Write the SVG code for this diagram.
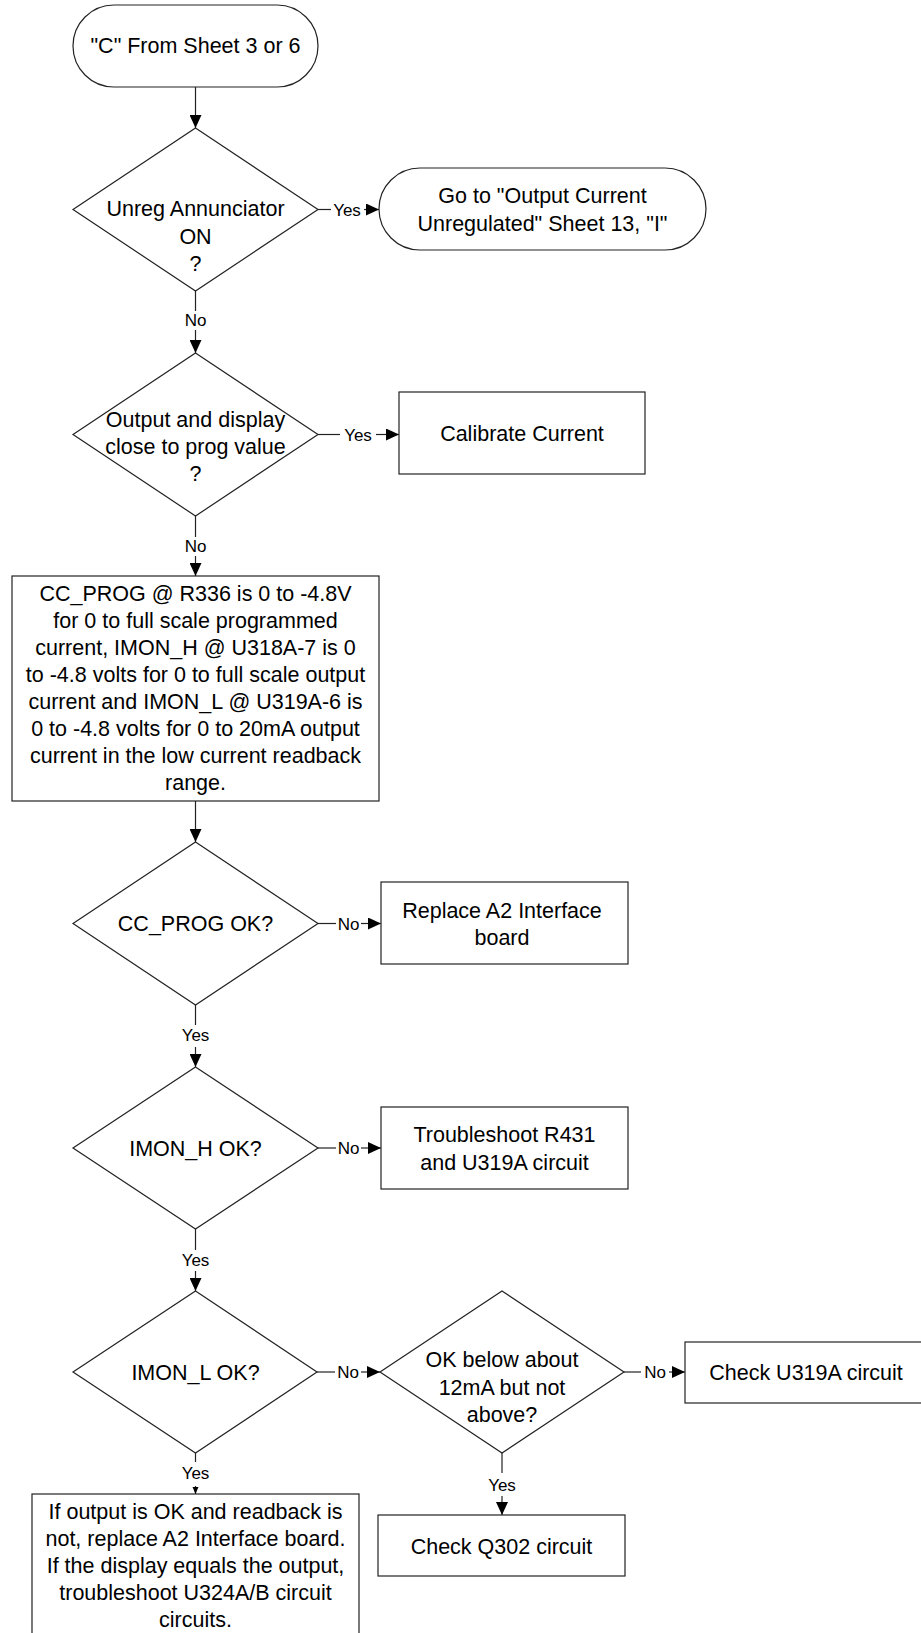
<svg xmlns="http://www.w3.org/2000/svg" width="921" height="1633" viewBox="0 0 921 1633">
<defs>
<marker id="ah" markerUnits="userSpaceOnUse" markerWidth="14" markerHeight="12" refX="13" refY="6" orient="auto">
<path d="M0,0 L13,6 L0,12 Z" fill="#000"/>
</marker>
<marker id="ahs" markerUnits="userSpaceOnUse" markerWidth="8" markerHeight="8" refX="7" refY="4" orient="auto">
<path d="M0,1 L7,4 L0,7 Z" fill="#000"/>
</marker>
<style>
.shape{fill:#fff;stroke:#222;stroke-width:1.2}
.t{font-family:"Liberation Sans",Arial,sans-serif;font-size:21.5px;fill:#000;text-anchor:middle}
.lbl{font-family:"Liberation Sans",Arial,sans-serif;font-size:17px;fill:#000;text-anchor:middle}
.c{stroke:#222;stroke-width:1.2;fill:none}
.ca{stroke:#222;stroke-width:1.2;fill:none;marker-end:url(#ah)}
.cs{stroke:#222;stroke-width:1.2;fill:none;marker-end:url(#ahs)}
</style>
</defs>
<rect width="921" height="1633" fill="#fff"/>

<g id="connectors">
<line class="ca" x1="195.5" y1="87" x2="195.5" y2="128"/>
<line class="c" x1="318" y1="209.5" x2="331" y2="209.5"/>
<text class="lbl" x="347" y="215.5">Yes</text>
<line class="ca" x1="364" y1="209.5" x2="379" y2="209.5"/>

<line class="c" x1="195.5" y1="291" x2="195.5" y2="311"/>
<text class="lbl" x="195.5" y="326">No</text>
<line class="ca" x1="195.5" y1="330" x2="195.5" y2="353"/>

<line class="c" x1="318" y1="434.5" x2="340" y2="434.5"/>
<text class="lbl" x="358" y="440.5">Yes</text>
<line class="ca" x1="376" y1="434.5" x2="399" y2="434.5"/>

<line class="c" x1="195.5" y1="516" x2="195.5" y2="537"/>
<text class="lbl" x="195.5" y="552">No</text>
<line class="ca" x1="195.5" y1="556" x2="195.5" y2="576"/>

<line class="ca" x1="195.5" y1="801" x2="195.5" y2="842"/>

<line class="c" x1="318" y1="923.5" x2="336" y2="923.5"/>
<text class="lbl" x="348.5" y="929.5">No</text>
<line class="ca" x1="361" y1="923.5" x2="381" y2="923.5"/>

<line class="c" x1="195.5" y1="1005" x2="195.5" y2="1025"/>
<text class="lbl" x="195.5" y="1041">Yes</text>
<line class="ca" x1="195.5" y1="1047" x2="195.5" y2="1067"/>

<line class="c" x1="318" y1="1148" x2="336" y2="1148"/>
<text class="lbl" x="348.5" y="1154">No</text>
<line class="ca" x1="361" y1="1148" x2="381" y2="1148"/>

<line class="c" x1="195.5" y1="1229" x2="195.5" y2="1250"/>
<text class="lbl" x="195.5" y="1266">Yes</text>
<line class="ca" x1="195.5" y1="1271" x2="195.5" y2="1291"/>

<line class="c" x1="317" y1="1372" x2="335" y2="1372"/>
<text class="lbl" x="348" y="1378">No</text>
<line class="ca" x1="361" y1="1372" x2="380" y2="1372"/>

<line class="c" x1="624" y1="1372" x2="641" y2="1372"/>
<text class="lbl" x="655" y="1378">No</text>
<line class="ca" x1="669" y1="1372" x2="685" y2="1372"/>

<line class="c" x1="195.5" y1="1453" x2="195.5" y2="1462"/>
<text class="lbl" x="195.5" y="1479">Yes</text>
<line class="cs" x1="195.5" y1="1486" x2="195.5" y2="1494"/>

<line class="c" x1="502" y1="1453" x2="502" y2="1473"/>
<text class="lbl" x="502" y="1491">Yes</text>
<line class="ca" x1="502" y1="1496" x2="502" y2="1515"/>
</g>

<g id="start">
<rect class="shape" x="73" y="5" width="245" height="82" rx="41" ry="41"/>
<text class="t" x="195.5" y="53">"C" From Sheet 3 or 6</text>
</g>

<g id="d1">
<polygon class="shape" points="195.5,128 318,209.5 195.5,291 73,209.5"/>
<text class="t" x="195.5" y="216">Unreg Annunciator</text>
<text class="t" x="195.5" y="244">ON</text>
<text class="t" x="195.5" y="271">?</text>
</g>

<g id="goto-i">
<rect class="shape" x="379" y="168" width="327" height="82" rx="41" ry="41"/>
<text class="t" x="542.5" y="203">Go to "Output Current</text>
<text class="t" x="542.5" y="231">Unregulated" Sheet 13, "I"</text>
</g>

<g id="d2">
<polygon class="shape" points="195.5,353 318,434.5 195.5,516 73,434.5"/>
<text class="t" x="195.5" y="427">Output and display</text>
<text class="t" x="195.5" y="454">close to prog value</text>
<text class="t" x="195.5" y="481">?</text>
</g>

<g id="calibrate">
<rect class="shape" x="399" y="392" width="246" height="82"/>
<text class="t" x="522" y="441">Calibrate Current</text>
</g>

<g id="info">
<rect class="shape" x="12" y="576" width="367" height="225"/>
<text class="t" x="195.5" y="600.5">CC_PROG @ R336 is 0 to -4.8V</text>
<text class="t" x="195.5" y="627.6">for 0 to full scale programmed</text>
<text class="t" x="195.5" y="654.7">current, IMON_H @ U318A-7 is 0</text>
<text class="t" x="195.5" y="681.8">to -4.8 volts for 0 to full scale output</text>
<text class="t" x="195.5" y="708.9">current and IMON_L @ U319A-6 is</text>
<text class="t" x="195.5" y="736">0 to -4.8 volts for 0 to 20mA output</text>
<text class="t" x="195.5" y="763.1">current in the low current readback</text>
<text class="t" x="195.5" y="790.2">range.</text>
</g>

<g id="d3">
<polygon class="shape" points="195.5,842 318,923.5 195.5,1005 73,923.5"/>
<text class="t" x="195.5" y="931">CC_PROG OK?</text>
</g>

<g id="replace-a2">
<rect class="shape" x="381" y="882" width="247" height="82"/>
<text class="t" x="502" y="917.5">Replace A2 Interface</text>
<text class="t" x="502" y="944.5">board</text>
</g>

<g id="d4">
<polygon class="shape" points="195.5,1067 318,1148 195.5,1229 73,1148"/>
<text class="t" x="195.5" y="1155.5">IMON_H OK?</text>
</g>

<g id="troubleshoot-r431">
<rect class="shape" x="381" y="1107" width="247" height="82"/>
<text class="t" x="504.5" y="1141.5">Troubleshoot R431</text>
<text class="t" x="504.5" y="1169.5">and U319A circuit</text>
</g>

<g id="d5">
<polygon class="shape" points="195.5,1291 317,1372 195.5,1453 73,1372"/>
<text class="t" x="195.5" y="1379.5">IMON_L OK?</text>
</g>

<g id="d6">
<polygon class="shape" points="502,1291 624,1372 502,1453 380,1372"/>
<text class="t" x="502" y="1366.5">OK below about</text>
<text class="t" x="502" y="1394.5">12mA but not</text>
<text class="t" x="502" y="1421.5">above?</text>
</g>

<g id="check-u319a">
<rect class="shape" x="685" y="1342" width="245" height="61"/>
<text class="t" x="806" y="1379.5">Check U319A circuit</text>
</g>

<g id="check-q302">
<rect class="shape" x="378" y="1515" width="247" height="61"/>
<text class="t" x="501.5" y="1553.5">Check Q302 circuit</text>
</g>

<g id="final">
<rect class="shape" x="32" y="1494" width="327" height="160"/>
<text class="t" x="195.5" y="1519">If output is OK and readback is</text>
<text class="t" x="195.5" y="1546">not, replace A2 Interface board.</text>
<text class="t" x="195.5" y="1573">If the display equals the output,</text>
<text class="t" x="195.5" y="1600">troubleshoot U324A/B circuit</text>
<text class="t" x="195.5" y="1627">circuits.</text>
</g>
</svg>
